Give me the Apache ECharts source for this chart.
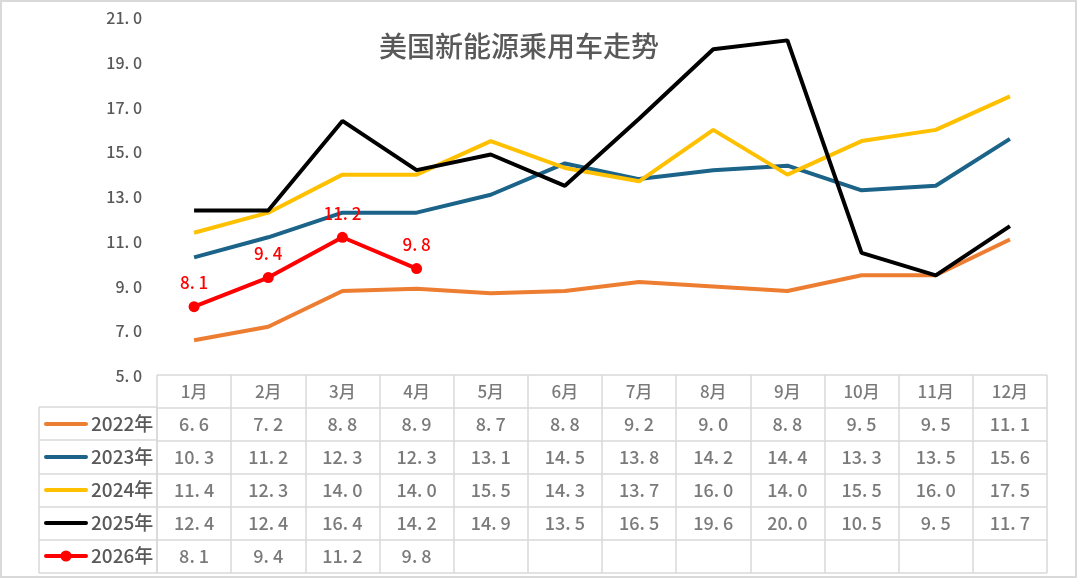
<!DOCTYPE html>
<html>
<head>
<meta charset="utf-8">
<title>美国新能源乘用车走势</title>
<script src="https://cdn.jsdelivr.net/npm/echarts@6/dist/echarts.min.js"></script>
<style>
  html, body { margin: 0; padding: 0; background: #fff; }
</style>
</head>
<body>
<div id="main" style="width: 1080px; height: 580px;"></div>
<script type="text/javascript">
// 数据
var months = ['1月', '2月', '3月', '4月', '5月', '6月', '7月', '8月', '9月', '10月', '11月', '12月'];
var years = ['2022年', '2023年', '2024年', '2025年', '2026年'];
var v2022 = [6.6, 7.2, 8.8, 8.9, 8.7, 8.8, 9.2, 9.0, 8.8, 9.5, 9.5, 11.1];
var v2023 = [10.3, 11.2, 12.3, 12.3, 13.1, 14.5, 13.8, 14.2, 14.4, 13.3, 13.5, 15.6];
var v2024 = [11.4, 12.3, 14.0, 14.0, 15.5, 14.3, 13.7, 16.0, 14.0, 15.5, 16.0, 17.5];
var v2025 = [12.4, 12.4, 16.4, 14.2, 14.9, 13.5, 16.5, 19.6, 20.0, 10.5, 9.5, 11.7];
var v2026 = [8.1, 9.4, 11.2, 9.8];
var colors = ['#ED7D31', '#1B6388', '#FFC000', '#000000', '#FF0000'];

var allValues = [v2022, v2023, v2024, v2025, v2026];
var textColor = '#595959';
var fontFam = "'Noto Sans CJK SC', 'Noto Sans', sans-serif";

function fmt(v) {
  return v.toFixed(1).replace('.', '. ');
}

var myChart = echarts.init(document.getElementById('main'));

// 表格单元格（表头 + 各年数值）
var tableCells = [];
for (var i = 0; i < months.length; i++) {
  tableCells.push({ value: [i, 0], label: { formatter: months[i], fontSize: 17 } });
}
for (var r = 0; r < allValues.length; r++) {
  for (var j = 0; j < allValues[r].length; j++) {
    tableCells.push({ value: [j, r + 1], label: { formatter: fmt(allValues[r][j]) } });
  }
}

// 图例：前四年只显示线，不显示圆点
var legendData = [];
for (var n = 0; n < years.length; n++) {
  if (n < years.length - 1) {
    legendData.push({ name: years[n], itemStyle: { opacity: 0 } });
  } else {
    legendData.push({ name: years[n] });
  }
}

var lineSeries = [];
for (var k = 0; k < years.length; k++) {
  var isLast = k === years.length - 1;
  lineSeries.push({
    name: years[k],
    type: 'line',
    xAxisIndex: 0,
    yAxisIndex: 0,
    data: allValues[k],
    symbol: isLast ? 'circle' : 'none',
    symbolSize: 11,
    z: isLast ? 10 : 3,
    lineStyle: { color: colors[k], width: 4 },
    itemStyle: { color: colors[k] },
    label: {
      show: isLast,
      position: 'top',
      distance: 10,
      color: '#FF0000',
      fontSize: 17,
      fontWeight: 500,
      fontFamily: fontFam,
      formatter: function (p) { return fmt(p.value); }
    },
    emphasis: { disabled: true }
  });
}

option = {
  animation: false,
  backgroundColor: '#fff',
  title: {
    text: '美国新能源乘用车走势',
    left: 514,
    top: 27,
    textAlign: 'center',
    textStyle: { color: textColor, fontSize: 28, fontWeight: 500, fontFamily: fontFam }
  },
  legend: {
    orient: 'vertical',
    left: 44,
    top: 413,
    padding: 0,
    itemWidth: 40,
    itemHeight: 14,
    itemGap: 11,
    selectedMode: false,
    data: legendData,
    lineStyle: { width: 4, cap: 'round' },
    textStyle: { color: textColor, fontSize: 19, fontWeight: 500, lineHeight: 22, fontFamily: fontFam }
  },
  graphic: [{
    type: 'rect',
    silent: true,
    shape: { x: 1, y: 1, width: 1075, height: 576 },
    style: { fill: 'none', stroke: '#d9d9d9', lineWidth: 2 }
  }],
  grid: [
    { left: 157, right: 33, top: 18, bottom: 204 },
    { left: 157, right: 33, top: 375, bottom: 7 },
    { left: 39, width: 118, top: 407, bottom: 7 }
  ],
  xAxis: [
    {
      gridIndex: 0, type: 'category', data: months, boundaryGap: true,
      axisLine: { show: false }, axisTick: { show: false }, axisLabel: { show: false }
    },
    {
      gridIndex: 1, type: 'category', data: months, boundaryGap: true,
      axisLine: { show: false }, axisTick: { show: false }, axisLabel: { show: false },
      splitLine: { show: true, showMinLine: true, showMaxLine: true, lineStyle: { color: '#d9d9d9', width: 1.5 } }
    },
    {
      gridIndex: 2, type: 'category', data: [''], boundaryGap: true,
      axisLine: { show: false }, axisTick: { show: false }, axisLabel: { show: false },
      splitLine: { show: true, showMinLine: true, showMaxLine: true, lineStyle: { color: '#d9d9d9', width: 1.5 } }
    }
  ],
  yAxis: [
    {
      gridIndex: 0, type: 'value', min: 5, max: 21, interval: 2,
      axisLine: { show: false }, axisTick: { show: false }, splitLine: { show: false },
      axisLabel: {
        margin: 15, color: textColor, fontSize: 16, fontWeight: 500, fontFamily: fontFam,
        formatter: function (v) { return fmt(v); }
      }
    },
    {
      gridIndex: 1, type: 'category', inverse: true, data: ['表头'].concat(years), boundaryGap: true,
      axisLine: { show: false }, axisTick: { show: false }, axisLabel: { show: false },
      splitLine: { show: true, showMinLine: true, showMaxLine: true, lineStyle: { color: '#d9d9d9', width: 1.5 } }
    },
    {
      gridIndex: 2, type: 'category', inverse: true, data: years, boundaryGap: true,
      axisLine: { show: false }, axisTick: { show: false }, axisLabel: { show: false },
      splitLine: { show: true, showMinLine: true, showMaxLine: true, lineStyle: { color: '#d9d9d9', width: 1.5 } }
    }
  ],
  series: lineSeries.concat([{
    name: '表格',
    type: 'scatter',
    xAxisIndex: 1,
    yAxisIndex: 1,
    symbolSize: 1,
    itemStyle: { color: 'rgba(0,0,0,0)' },
    silent: true,
    data: tableCells,
    label: {
      show: true,
      position: 'inside',
      color: textColor,
      fontSize: 18,
      fontWeight: 500,
      fontFamily: fontFam
    }
  }])
};

myChart.setOption(option);
</script>
</body>
</html>
